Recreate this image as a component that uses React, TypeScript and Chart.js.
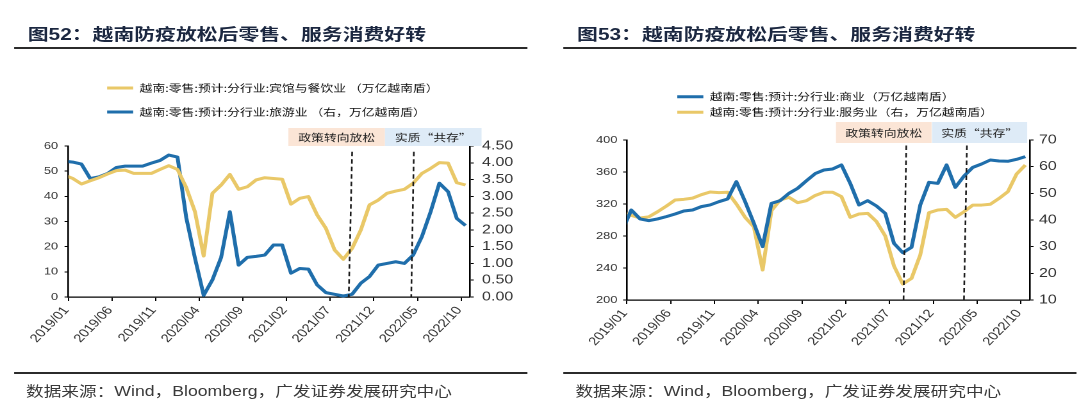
import React, { useEffect, useRef } from 'react';
import { Chart, registerables } from 'chart.js';

Chart.register(...registerables);

// The reference picture is horizontally stretched; we lay out in unstretched units.
const S = 1.28;
const u = (x: number) => x / S;

const MONTHS = [
  '2018/12',
  '2019/01', '2019/02', '2019/03', '2019/04', '2019/05', '2019/06', '2019/07', '2019/08', '2019/09', '2019/10', '2019/11', '2019/12',
  '2020/01', '2020/02', '2020/03', '2020/04', '2020/05', '2020/06', '2020/07', '2020/08', '2020/09', '2020/10', '2020/11', '2020/12',
  '2021/01', '2021/02', '2021/03', '2021/04', '2021/05', '2021/06', '2021/07', '2021/08', '2021/09', '2021/10', '2021/11', '2021/12',
  '2022/01', '2022/02', '2022/03', '2022/04', '2022/05', '2022/06', '2022/07', '2022/08', '2022/09', '2022/10',
];
const TICK_MONTHS = ['2019/01', '2019/06', '2019/11', '2020/04', '2020/09', '2021/02', '2021/07', '2021/12', '2022/05', '2022/10'];

// 图52
const HOTEL_CATERING = [48.5, 47.1, 44.9, 46.2, 47.4, 48.9, 50.2, 50.4, 49.1, 49.1, 49.1, 50.7, 52.2, 50.7, 43.5, 33.9, 16.3, 41.2, 44.5, 48.7, 42.8, 43.8, 46.5, 47.4, 47.1, 46.8, 36.9, 39.2, 39.9, 32.6, 27.3, 18.7, 15.0, 19.3, 26.6, 36.6, 38.5, 41.2, 42.1, 42.8, 45.2, 49.1, 51.1, 53.4, 53.2, 45.4, 44.5];
const TOURISM = [4.05, 4.02, 3.96, 3.53, 3.58, 3.68, 3.86, 3.9, 3.9, 3.9, 3.99, 4.07, 4.23, 4.17, 2.37, 1.16, 0.05, 0.51, 1.18, 2.54, 0.95, 1.18, 1.21, 1.25, 1.55, 1.55, 0.71, 0.85, 0.83, 0.36, 0.13, 0.08, 0.03, 0.08, 0.41, 0.61, 0.95, 1.0, 1.05, 1.0, 1.25, 1.8, 2.54, 3.39, 3.14, 2.34, 2.13];
// 图53
const COMMERCE = [287.5, 312.5, 301.3, 299.2, 301.3, 304.2, 307.5, 311.3, 312.5, 316.7, 318.8, 322.9, 326.3, 347.9, 322.9, 295.8, 266.7, 320.8, 324.2, 333.3, 339.6, 349, 358, 362.5, 363.8, 368.8, 345.8, 318.8, 324.2, 317.5, 308.3, 270.8, 259.2, 265.8, 318.8, 347.1, 345.8, 368.8, 340.8, 355, 365.8, 370, 375, 373.8, 373.4, 375.8, 379.2];
const SERVICES = [42.7, 41.75, 40.75, 41.2, 43.1, 45.2, 47.5, 47.75, 48.2, 49.5, 50.5, 50.25, 50.4, 46, 41, 37.4, 21.25, 43.5, 47.5, 48.5, 46.5, 47.25, 49.2, 50.4, 50.4, 48.75, 41, 42.25, 42.5, 39.4, 34, 22.75, 16, 18.1, 26.9, 42.75, 43.75, 44, 41, 43.1, 45.6, 45.6, 45.9, 48.1, 50.6, 57.25, 60.6];

const FIG52_LEFT_TICKS = [0, 10, 20, 30, 40, 50, 60];
const FIG52_RIGHT_TICKS = [0, 0.5, 1, 1.5, 2, 2.5, 3, 3.5, 4, 4.5];
const FIG53_LEFT_TICKS = [200, 240, 280, 320, 360, 400];
const FIG53_RIGHT_TICKS = [10, 20, 30, 40, 50, 60, 70];

const FIG52_LABELS = ['越南:零售:预计:分行业:宾馆与餐饮业 （万亿越南盾）', '越南:零售:预计:分行业:旅游业 （右，万亿越南盾）'];
const FIG53_LABELS = ['越南:零售:预计:分行业:商业（万亿越南盾）', '越南:零售:预计:分行业:服务业（右，万亿越南盾）'];

const PHASES = ['政策转向放松', '实质“共存”'];

// policy turning points, in category-index units (2018/12 = 0)
const FIG52_EVENTS = [{ top: 33.01, bottom: 32.62 }, { top: 40.08, bottom: 39.78 }];
const FIG53_EVENTS = [{ top: 32.4, bottom: 32.09 }, { top: 39.33, bottom: 38.99 }];

const BLUE = '#1F6EAB';
const GOLD = '#E9C868';
const PHASE_COLORS = ['#FBE5D6', '#DEEBF7'];
const LATIN = '"Liberation Sans", Arial, sans-serif';
const CJK = '"Noto Sans CJK SC", sans-serif';

const overlayPlugin = {
  id: 'overlay',
  beforeLayout(chart: any, _a: any, o: any) {
    const lg = chart.legend;
    if (lg && !lg.__patched) {
      const fit = lg.fit.bind(lg);
      lg.fit = function () {
        fit();
        this.height = o.legendHeight;
      };
      lg.__patched = true;
    }
  },
  afterLayout(chart: any, _a: any, o: any) {
    if (chart.legend) chart.legend.left = o.legendX - o.legendPad;
  },
  afterDatasetsDraw(chart: any, _a: any, o: any) {
    const { ctx, chartArea, scales } = chart;
    const x = scales.x;
    ctx.save();
    ctx.strokeStyle = '#1a1a1a';
    ctx.lineWidth = 1.3;
    ctx.setLineDash([4.5, 3]);
    for (const e of o.events) {
      ctx.beginPath();
      ctx.moveTo(x.getPixelForValue(e.top), chartArea.top + o.lineTopGap);
      ctx.lineTo(x.getPixelForValue(e.bottom), chartArea.bottom);
      ctx.stroke();
    }
    ctx.restore();
  },
  afterDraw(chart: any, _a: any, o: any) {
    const { ctx } = chart;
    ctx.save();
    o.boxes.forEach((b: any, i: number) => {
      ctx.fillStyle = PHASE_COLORS[i];
      ctx.fillRect(b.x, b.y, b.w, b.h);
      ctx.fillStyle = '#222';
      ctx.font = `10px ${CJK}`;
      ctx.textAlign = 'center';
      ctx.textBaseline = 'middle';
      ctx.fillText(PHASES[i], b.x + b.w / 2, b.y + b.h / 2 + 0.5);
    });
    ctx.restore();
  },
};

function yAxis(p: any) {
  return {
    type: 'linear',
    position: p.position,
    min: p.ticks[0],
    max: p.ticks[p.ticks.length - 1],
    afterBuildTicks: (s: any) => {
      s.ticks = p.ticks.map((v: number) => ({ value: v }));
    },
    afterFit: (s: any) => {
      s.width = p.width;
    },
    grid: { drawOnChartArea: false, drawTicks: true, tickLength: 3, color: '#000', lineWidth: 1 },
    border: { display: true, color: '#000', width: 1.3 },
    ticks: {
      autoSkip: false,
      padding: p.padding,
      color: '#333',
      font: { family: LATIN, size: p.fontSize },
      callback: p.format || ((v: number) => String(v)),
    },
  };
}

function buildConfig(p: any): any {
  return {
    type: 'line',
    data: {
      labels: MONTHS,
      datasets: p.datasets.map((d: any) => ({
        label: d.label,
        data: d.data,
        yAxisID: d.axis,
        borderColor: d.color,
        backgroundColor: d.color,
        borderWidth: 3,
        pointRadius: 0,
        pointHoverRadius: 0,
        tension: 0,
        borderJoinStyle: 'round',
        fill: false,
        clip: { left: 0, right: 0, top: false, bottom: false },
      })),
    },
    options: {
      responsive: true,
      maintainAspectRatio: false,
      animation: false,
      devicePixelRatio: 2,
      events: [],
      layout: { padding: { top: p.padTop, left: 0, right: 0, bottom: 0 } },
      plugins: {
        tooltip: { enabled: false },
        legend: {
          display: true,
          position: 'top',
          align: 'start',
          labels: {
            boxWidth: u(26),
            boxHeight: 3,
            padding: p.legendPad,
            color: '#111',
            font: { family: CJK, size: 10 },
            generateLabels: (chart: any) =>
              chart.data.datasets.map((d: any, i: number) => ({
                text: d.label,
                fillStyle: d.borderColor,
                strokeStyle: d.borderColor,
                lineWidth: 0,
                hidden: false,
                datasetIndex: i,
                fontColor: '#111',
              })),
          },
        },
        overlay: {
          legendHeight: p.legendHeight,
          legendX: p.legendX,
          legendPad: p.legendPad,
          events: p.events,
          boxes: p.boxes,
          lineTopGap: p.lineTopGap,
        },
      },
      scales: {
        x: {
          type: 'category',
          min: '2019/01',
          offset: true,
          afterFit: (s: any) => {
            s.height = p.xHeight;
          },
          grid: {
            display: true,
            drawOnChartArea: false,
            drawTicks: true,
            tickLength: 4,
            offset: true,
            lineWidth: 1,
            color: (c: any) => (c.tick && TICK_MONTHS.includes(MONTHS[c.tick.value]) ? '#000' : 'rgba(0,0,0,0)'),
          },
          border: { display: true, color: '#000', width: 1.3 },
          ticks: {
            autoSkip: false,
            minRotation: 52,
            maxRotation: 52,
            labelOffset: -5,
            padding: 3,
            color: '#333',
            font: { family: LATIN, size: 11.5 },
            callback: (v: number) => (TICK_MONTHS.includes(MONTHS[v]) ? MONTHS[v] : ''),
          },
        },
        y: yAxis(p.left),
        y1: yAxis(p.right),
      },
    },
    plugins: [overlayPlugin],
  };
}

const FIG52 = buildConfig({
  datasets: [
    { label: FIG52_LABELS[0], data: HOTEL_CATERING, axis: 'y', color: GOLD },
    { label: FIG52_LABELS[1], data: TOURISM, axis: 'y1', color: BLUE },
  ],
  padTop: 9,
  legendHeight: 77,
  legendPad: 14,
  legendX: u(107),
  xHeight: 73,
  lineTopGap: 5.7,
  events: FIG52_EVENTS,
  boxes: [
    { x: u(288), y: 68, w: u(96.5), h: 18 },
    { x: u(384.5), y: 68, w: u(96.5), h: 18 },
  ],
  left: { position: 'left', ticks: FIG52_LEFT_TICKS, width: u(68.3), padding: 5, fontSize: 10 },
  right: {
    position: 'right',
    ticks: FIG52_RIGHT_TICKS,
    width: u(540) - u(469.3),
    padding: 6.5,
    fontSize: 12.5,
    format: (v: number) => v.toFixed(2),
  },
});

const FIG53 = buildConfig({
  datasets: [
    { label: FIG53_LABELS[0], data: COMMERCE, axis: 'y', color: BLUE },
    { label: FIG53_LABELS[1], data: SERVICES, axis: 'y1', color: GOLD },
  ],
  padTop: 26.1,
  legendHeight: 53.9,
  legendPad: 5.6,
  legendX: u(668 - 540),
  xHeight: 70,
  lineTopGap: 5.5,
  events: FIG53_EVENTS,
  boxes: [
    { x: u(826.5 - 540), y: 62, w: u(95.5), h: 21 },
    { x: u(922.5 - 540), y: 62, w: u(95), h: 21 },
  ],
  left: { position: 'left', ticks: FIG53_LEFT_TICKS, width: u(617.7 - 540), padding: 4.4, fontSize: 10 },
  right: { position: 'right', ticks: FIG53_RIGHT_TICKS, width: u(540) - u(1020 - 540), padding: 4.2, fontSize: 12.5 },
});

function ChartBox({ config, left }: { config: any; left: number }) {
  const ref = useRef<HTMLCanvasElement>(null);
  useEffect(() => {
    const chart = new Chart(ref.current as HTMLCanvasElement, config);
    return () => chart.destroy();
  }, [config]);
  return (
    <div style={{ position: 'absolute', left, top: 60, width: u(540), height: 310 }}>
      <canvas ref={ref} />
    </div>
  );
}

function Panel({ offset, title, config }: { offset: number; title: string; config: any }) {
  return (
    <>
      <div
        style={{
          position: 'absolute',
          left: u(offset + 27.7),
          top: 24.4,
          fontFamily: `"Liberation Sans", ${CJK}`,
          fontWeight: 700,
          fontSize: 16.3,
          lineHeight: '20px',
          color: '#1B2740',
          whiteSpace: 'nowrap',
        }}
      >
        {title}
      </div>
      <div style={{ position: 'absolute', left: u(offset + 14), top: 47, width: u(513), height: 2, background: '#2b2b2b' }} />
      <ChartBox config={config} left={u(offset)} />
      <div style={{ position: 'absolute', left: u(offset + 14), top: 372, width: u(513), height: 1.6, background: '#2b2b2b' }} />
      <div
        style={{
          position: 'absolute',
          left: u(offset + 26),
          top: 382.5,
          fontFamily: `"Liberation Sans", ${CJK}`,
          fontSize: 13.8,
          lineHeight: '18px',
          color: '#3a3a3a',
          whiteSpace: 'nowrap',
        }}
      >
        数据来源：Wind，Bloomberg，广发证券发展研究中心
      </div>
    </>
  );
}

export default function App() {
  useEffect(() => {
    document.body.style.margin = '0';
  }, []);
  return (
    <div style={{ position: 'relative', width: 1080, height: 417, overflow: 'hidden', background: '#fff' }}>
      <div
        style={{
          position: 'absolute',
          left: 0,
          top: 0,
          width: u(1080),
          height: 417,
          transform: `scaleX(${S})`,
          transformOrigin: '0 0',
        }}
      >
        <Panel offset={0} title="图52：越南防疫放松后零售、服务消费好转" config={FIG52} />
        <Panel offset={549.4} title="图53：越南防疫放松后零售、服务消费好转" config={FIG53} />
      </div>
    </div>
  );
}
